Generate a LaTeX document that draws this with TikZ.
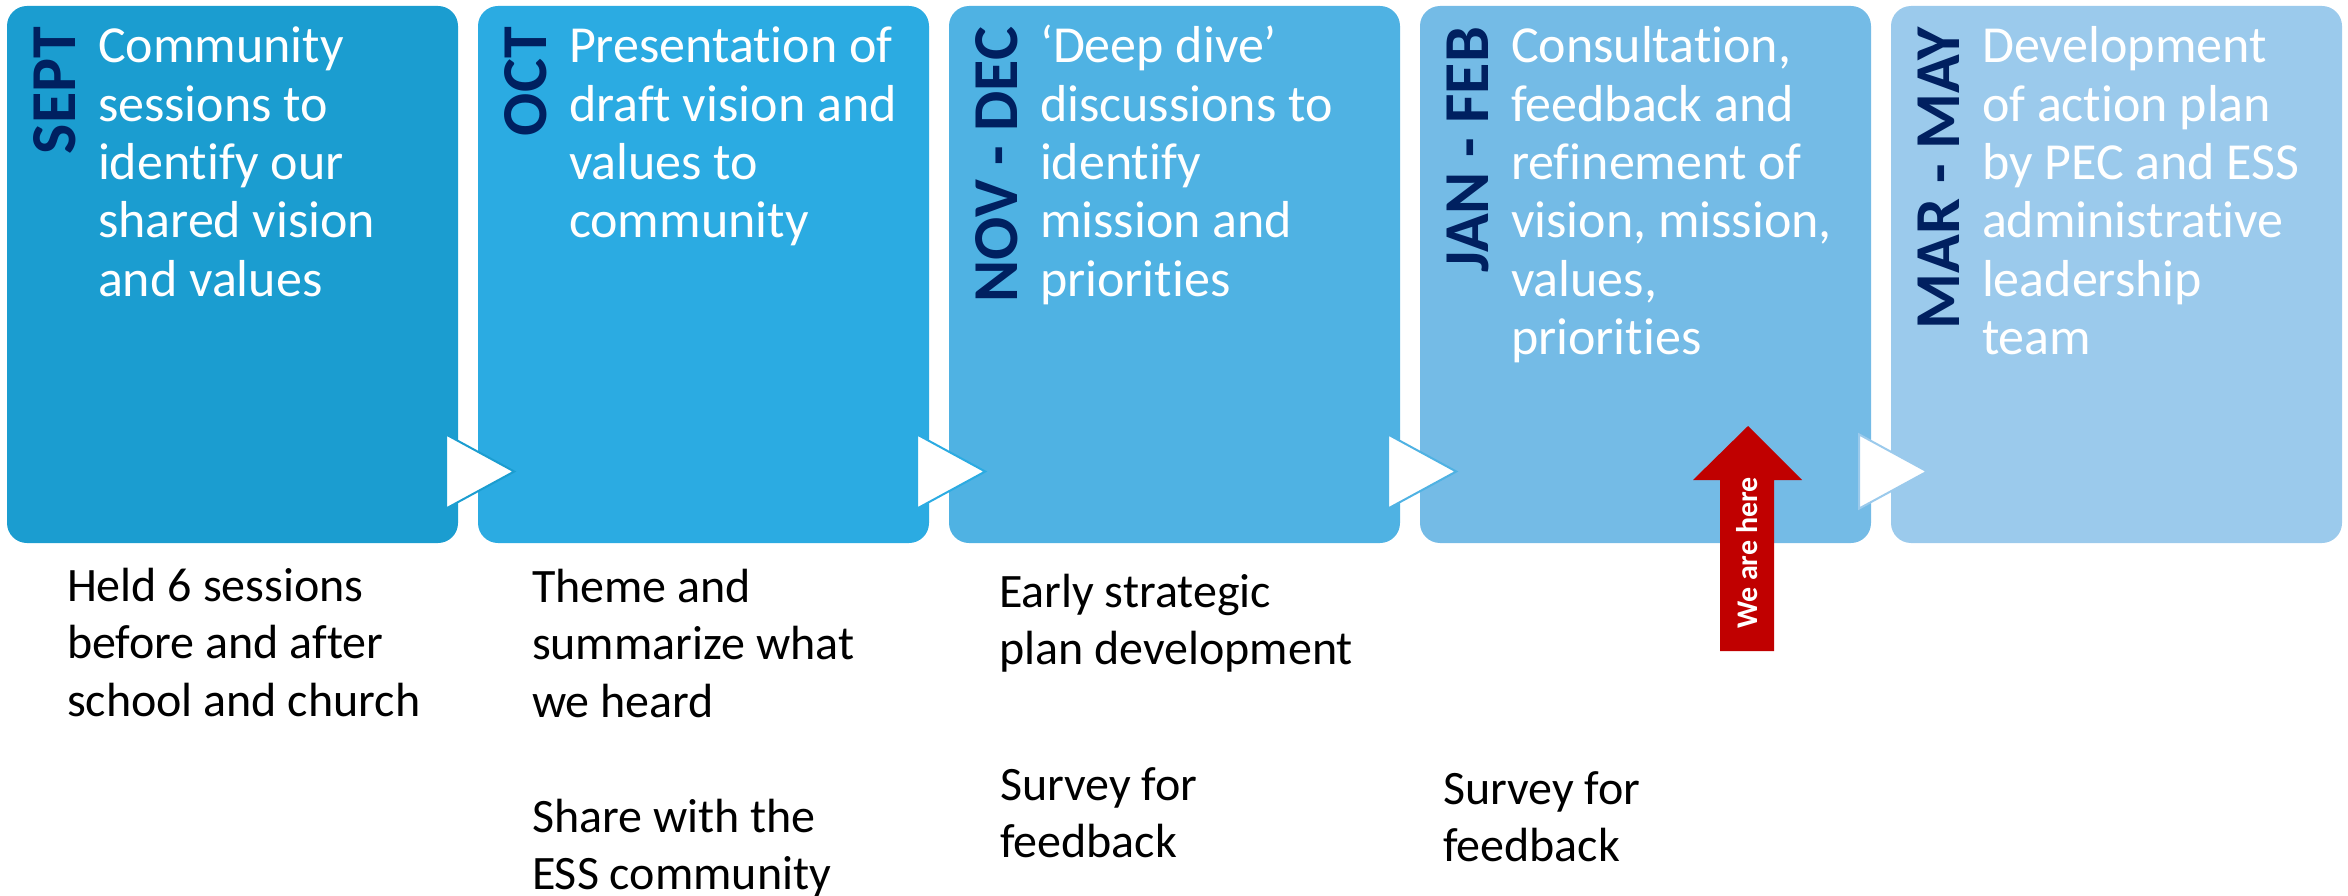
\documentclass[tikz,border=0pt]{standalone}
\usepackage{fontspec}
\setmainfont{Carlito}[Ligatures=NoCommon]
\usetikzlibrary{calc}
\setlength{\lineskiplimit}{-100pt}

\definecolor{sepblue}{HTML}{1B9DD0}
\definecolor{octblue}{HTML}{2BABE2}
\definecolor{novblue}{HTML}{4FB2E3}
\definecolor{janblue}{HTML}{74BBE6}
\definecolor{marblue}{HTML}{9BCAEC}
\definecolor{navy}{HTML}{002060}
\definecolor{herered}{HTML}{C00000}

% base anchor of a multi-line node is its last line
\tikzset{
  phase/.style={rounded corners=20pt, minimum width=451pt, minimum height=537pt, inner sep=0pt},
  month/.style={rotate=90, anchor=base east, inner sep=0pt, text=navy, font=\fontsize{64}{70}\selectfont\bfseries},
  body/.style={anchor=base west, inner sep=0pt, align=left, text=white, font=\fontsize{52}{58.3}\selectfont},
  note/.style={anchor=base west, inner sep=0pt, align=left, text=black, font=\fontsize{48}{57.5}\selectfont},
  nexttri/.style={fill=white, line width=2pt, line join=miter}
}

\begin{document}
\begin{tikzpicture}[x=1pt,y=-1pt]
  \useasboundingbox (0,0) rectangle (2348,896);
  % the five phases
  \node[phase, fill=sepblue] at (232.5,274.5) (sept) {};
  \node[phase, fill=octblue] at (703.5,274.5) (oct) {};
  \node[phase, fill=novblue] at (1174.5,274.5) (nov) {};
  \node[phase, fill=janblue] at (1645.5,274.5) (jan) {};
  \node[phase, fill=marblue] at (2116.5,274.5) (mar) {};

  \node[month] at ($(sept.north west)+(69,21)$) (septm) {SEPT};
  \node[month] at ($(oct.north west)+(69,21)$) (octm) {OCT};
  \node[month] at ($(nov.north west)+(69,21)$) (novm) {NOV - DEC};
  \node[month] at ($(jan.north west)+(69,21)$) (janm) {JAN - FEB};
  \node[month] at ($(mar.north west)+(69,21)$) (marm) {MAR - MAY};

  \node[body] at ($(sept.north west)+(91,290.2)$) (septt) {Community\\sessions to\\identify our\\shared vision\\and values};
  \node[body] at ($(oct.north west)+(91,231.9)$) (octt) {Presentation of\\draft vision and\\values to\\community};
  \node[body] at ($(nov.north west)+(91,290.2)$) (novt) {‘Deep dive’\\discussions to\\identify\\mission and\\priorities};
  \node[body] at ($(jan.north west)+(91,348.5)$) (jant) {Consultation,\\feedback and\\refinement of\\vision, mission,\\values,\\priorities};
  \node[body] at ($(mar.north west)+(91,348.5)$) (mart) {Development\\of action plan\\by PEC and ESS\\administrative\\leadership\\team};

  % little white pointers
  \filldraw[nexttri, draw=sepblue] ($(sept.east)+(-12,160)$) -- ($(sept.east)+(56,197)$) -- ($(sept.east)+(-12,234)$) -- cycle;
  \filldraw[nexttri, draw=octblue] ($(oct.east)+(-12,160)$) -- ($(oct.east)+(56,197)$) -- ($(oct.east)+(-12,234)$) -- cycle;
  \filldraw[nexttri, draw=novblue] ($(nov.east)+(-12,160)$) -- ($(nov.east)+(56,197)$) -- ($(nov.east)+(-12,234)$) -- cycle;
  \filldraw[nexttri, draw=marblue] ($(jan.east)+(-12,160)$) -- ($(jan.east)+(56,197)$) -- ($(jan.east)+(-12,234)$) -- cycle;

  % notes under the phases
  \node[note] at ($(sept.south west)+(60,173)$) (held) {Held 6 sessions\\before and after\\school and church};
  \node[note] at ($(oct.south west)+(54,174)$) (theme) {Theme and\\summarize what\\we heard};
  \node[note] at ($(oct.south west)+(54,346.5)$) (share) {Share with the\\ESS community};
  \node[note] at ($(nov.south west)+(50,121.5)$) (early) {Early strategic\\plan development};
  \node[note] at ($(nov.south west)+(51,314.5)$) (survn) {Survey for\\feedback};
  \node[note] at ($(jan.south west)+(23,318.5)$) (survj) {Survey for\\feedback};

  % we are here
  \fill[herered] (1748,426) -- (1802,480) -- (1774,480) -- (1774,651) -- (1720,651) -- (1720,480) -- (1693,480) -- cycle;
  \node[rotate=90, inner sep=0pt, text=white, font=\fontsize{30}{34}\selectfont\bfseries] at (1747,553) (here) {We are here};
\end{tikzpicture}
\end{document}
